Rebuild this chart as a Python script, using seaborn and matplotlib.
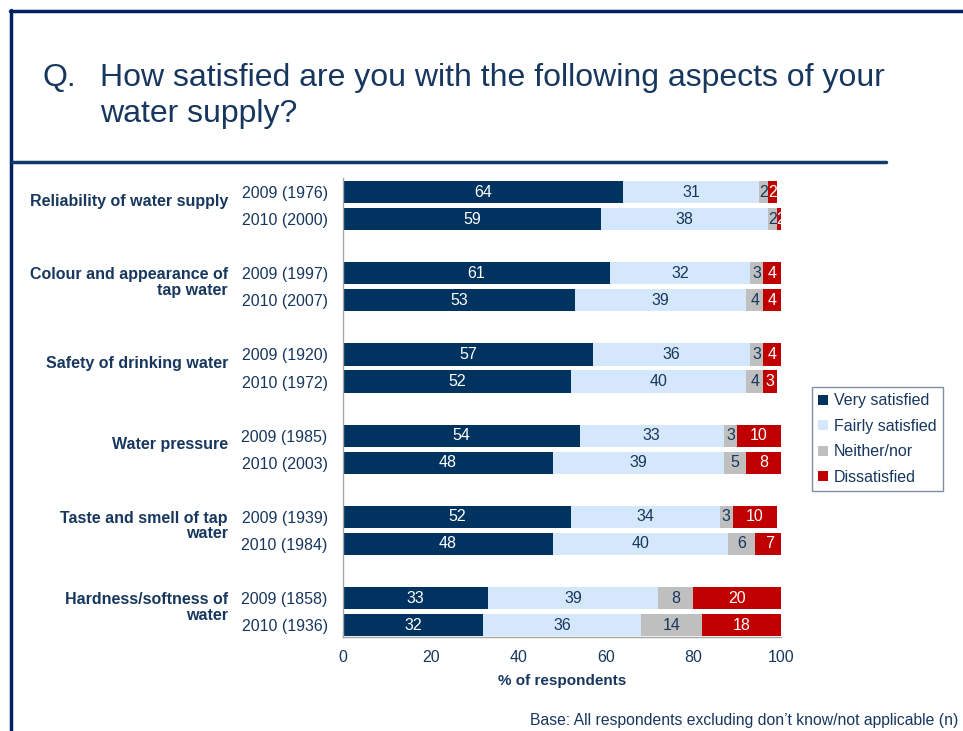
import matplotlib
matplotlib.use("Agg")
import matplotlib.pyplot as plt
from matplotlib.patches import Patch
from matplotlib.lines import Line2D
import seaborn as sns
import pandas as pd

# ---- data -------------------------------------------------------------
aspects = [
    "Reliability of water supply",
    "Colour and appearance of\ntap water",
    "Safety of drinking water",
    "Water pressure",
    "Taste and smell of tap\nwater",
    "Hardness/softness of\nwater",
]
row_labels = [
    "2009 (1976)", "2010 (2000)",
    "2009 (1997)", "2010 (2007)",
    "2009 (1920)", "2010 (1972)",
    "2009 (1985)", "2010 (2003)",
    "2009 (1939)", "2010 (1984)",
    "2009 (1858)", "2010 (1936)",
]
responses = ["Very satisfied", "Fairly satisfied", "Neither/nor", "Dissatisfied"]
very_satisfied = [64, 59, 61, 53, 57, 52, 54, 48, 52, 48, 33, 32]
fairly_satisfied = [31, 38, 32, 39, 36, 40, 33, 39, 34, 40, 39, 36]
neither_nor = [2, 2, 3, 4, 3, 4, 3, 5, 3, 6, 8, 14]
dissatisfied = [2, 2, 4, 4, 4, 3, 10, 8, 10, 7, 20, 18]
x_ticks = [0, 20, 40, 60, 80, 100]

series = [very_satisfied, fairly_satisfied, neither_nor, dissatisfied]
colors = ["#00335F", "#D5E7FA", "#BFBFBF", "#C00000"]
text_colors = ["white", "#17375E", "#17375E", "white"]
navy = "#17375E"

# two rows per aspect, with a blank slot between aspects
pos = [3 * (i // 2) + i % 2 for i in range(len(row_labels))]

sns.set_style("white")
plt.rcParams["font.family"] = ["Liberation Sans", "DejaVu Sans"]

fig = plt.figure(figsize=(9.63, 7.31), dpi=100)
ax = fig.add_axes([343 / 963, 1 - 637 / 731, 438 / 963, 459 / 731])

# stacked bars: draw cumulative totals from the outermost layer inwards
cums = []
running = [0] * len(pos)
for s in series:
    running = [r + v for r, v in zip(running, s)]
    cums.append(list(running))

for j in reversed(range(len(series))):
    df = pd.DataFrame({"pos": pos, "end": cums[j]})
    sns.barplot(data=df, x="end", y="pos", orient="h", native_scale=True,
                color=colors[j], saturation=1, width=0.82, linewidth=0,
                errorbar=None, ax=ax)

# value labels centred in each segment
for j, s in enumerate(series):
    for i, v in enumerate(s):
        start = cums[j][i] - v
        ax.text(start + v / 2, pos[i], str(v), ha="center", va="center",
                color=text_colors[j], fontsize=11.5)

ax.set_xlim(0, 100)
ax.set_ylim(16.44, -0.52)
ax.set_xticks(x_ticks)
ax.set_xticklabels([str(t) for t in x_ticks])
ax.set_yticks(pos)
ax.set_yticklabels(row_labels)
ax.tick_params(axis="y", length=0, pad=11, labelsize=11.5, labelcolor=navy)
ax.tick_params(axis="x", length=4, width=1, color="#9A9A9A", direction="out",
               pad=5, labelsize=11.5, labelcolor=navy)
ax.set_xlabel("% of respondents", fontsize=11, fontweight="bold", color=navy,
              labelpad=7)
ax.set_ylabel("")
for side in ["top", "right"]:
    ax.spines[side].set_visible(False)
for side in ["left", "bottom"]:
    ax.spines[side].set_color("#A6A6A6")
    ax.spines[side].set_linewidth(1)

# aspect names beside each pair of rows
for g, name in enumerate(aspects):
    ax.text(-0.2626, 3 * g + 0.5 - 0.16, name, transform=ax.get_yaxis_transform(),
            ha="right", va="center", multialignment="right", linespacing=1.05,
            fontsize=11.5, fontweight="bold", color=navy)

# legend
handles = [Patch(facecolor=c, edgecolor="none") for c in colors]
leg = fig.legend(handles, responses, loc="upper left",
                 bbox_to_anchor=(812 / 963, 1 - 387 / 731), fontsize=11.5,
                 frameon=True, fancybox=False, framealpha=1,
                 edgecolor="#7F8FA6", handlelength=0.6, handleheight=0.6,
                 handletextpad=0.35, labelspacing=0.66, borderpad=0.4,
                 borderaxespad=0)
leg.get_frame().set_linewidth(1)
for t in leg.get_texts():
    t.set_color(navy)

# title
fig.text(42 / 963, 1 - 86 / 731, "Q.", fontsize=23, color=navy, va="baseline")
fig.text(100 / 963, 1 - 86 / 731,
         "How satisfied are you with the following aspects of your",
         fontsize=23, color=navy, va="baseline")
fig.text(100 / 963, 1 - 122 / 731, "water supply?", fontsize=23, color=navy,
         va="baseline")

# slide frame lines
frame = "#002060"
fig.add_artist(Line2D([10 / 963, 1], [1 - 11 / 731, 1 - 11 / 731],
                      transform=fig.transFigure, color=frame, linewidth=2.5))
fig.add_artist(Line2D([11 / 963, 11 / 963], [1 - 10 / 731, 0],
                      transform=fig.transFigure, color=frame, linewidth=2.5))
fig.add_artist(Line2D([12 / 963, 886 / 963], [1 - 162 / 731, 1 - 162 / 731],
                      transform=fig.transFigure, color="#0F3A6B", linewidth=2.5))

# footnote
fig.text(958 / 963, 1 - 720 / 731,
         "Base: All respondents excluding don\u2019t know/not applicable (n)",
         fontsize=11.3, color=navy, ha="right", va="center")

fig.savefig("out.png", dpi=100)
